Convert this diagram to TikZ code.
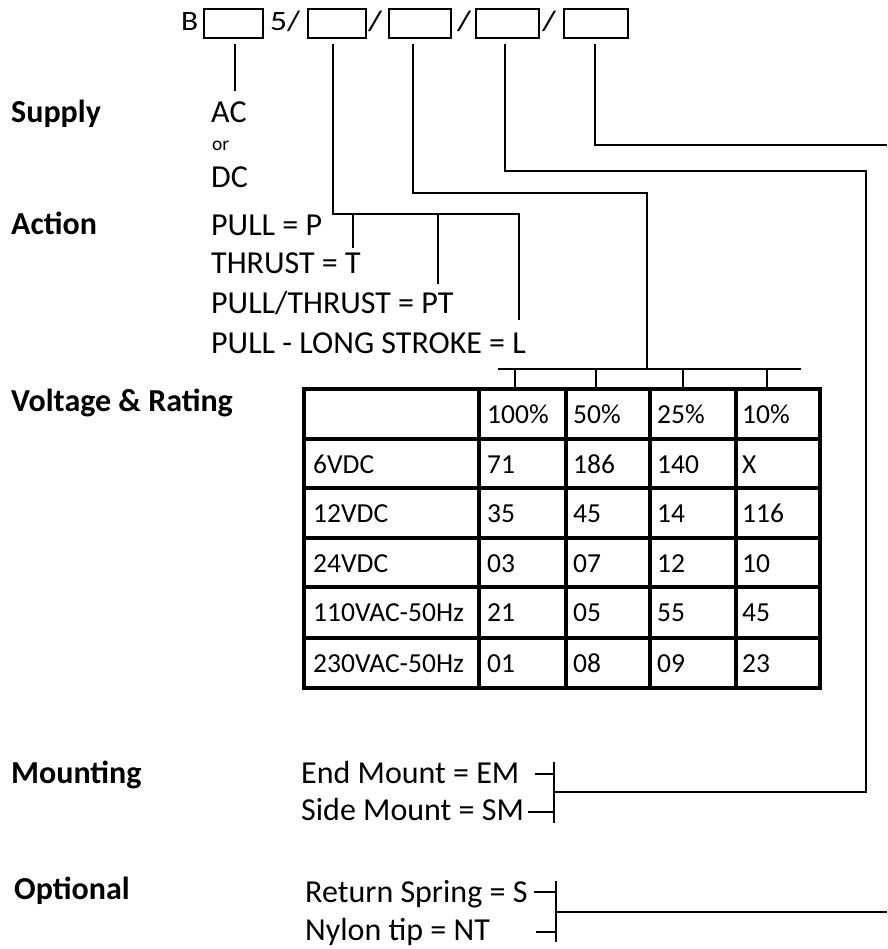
\documentclass[tikz,border=0pt]{standalone}
\usepackage{fontspec}
\setmainfont{Carlito}
\begin{document}
\begin{tikzpicture}[x=1pt,y=-1pt,
  conn/.style={line width=2.4pt, line join=miter},
  grid/.style={line width=3.1pt, line cap=rect},
  codebox/.style={draw, line width=2.3pt, minimum height=29pt, inner sep=0pt, anchor=north west},
  toptxt/.style={anchor=base west, inner sep=0pt, font=\fontsize{28}{32}\selectfont},
  lbl/.style={anchor=base west, inner sep=0pt, font=\fontsize{32}{38}\selectfont},
  head/.style={anchor=base west, inner sep=0pt, font=\bfseries\fontsize{32}{38}\selectfont},
  small/.style={anchor=base west, inner sep=0pt, font=\fontsize{19.5}{23}\selectfont},
  cell/.style={anchor=base west, inner sep=0pt, font=\fontsize{27.5}{33}\selectfont}
]
\useasboundingbox (0,0) rectangle (887,949);

% ---- code line ----
\node[toptxt] (tB) at (181,31) {\scalebox{1.12}[1]{B}};
\node[codebox, minimum width=59pt] (b1) at (203,8) {};
\node[toptxt] (t5) at (270,31) {\scalebox{1.2}[1]{5/}};
\node[codebox, minimum width=58pt] (b2) at (307,8) {};
\node[toptxt] (s2) at (368,31) {\scalebox{1.3}[1]{/}};
\node[codebox, minimum width=62pt] (b3) at (388,8) {};
\node[toptxt] (s3) at (457,31) {\scalebox{1.3}[1]{/}};
\node[codebox, minimum width=63pt] (b4) at (475,8) {};
\node[toptxt] (s4) at (542,31) {\scalebox{1.3}[1]{/}};
\node[codebox, minimum width=64pt] (b5) at (563,8) {};

% ---- left headings ----
\node[head] (hSupply) at (11,123) {Supply};
\node[head] (hAction) at (11,235) {Action};
\node[head] (hVolt) at (11,411) {Voltage \& Rating};
\node[head] (hMount) at (11,783) {Mounting};
\node[head] (hOpt) at (14,899) {Optional};

% ---- supply ----
\node[lbl] (ac) at (211,123) {AC};
\node[small] (or) at (212,151) {or};
\node[lbl] (dc) at (211,188) {DC};

% ---- action ----
\node[lbl] (aP) at (211,236) {PULL = P};
\node[lbl] (aT) at (211,274) {THRUST = T};
\node[lbl] (aPT) at (211,313) {PULL/THRUST = PT};
\node[lbl] (aL) at (211,353) {PULL - LONG STROKE = L};

% ---- mounting / optional ----
\node[lbl] (mEM) at (301,783) {End Mount = EM};
\node[lbl] (mSM) at (301,820) {Side Mount = SM};
\node[lbl] (oS) at (305,902) {Return Spring = S};
\node[lbl] (oNT) at (305,940) {Nylon tip = NT};

% ---- table ----
\foreach \yy in {389,439,488,538,587,638,688}
  \draw[grid] (304,\yy) -- (820,\yy);
\foreach \xx in {304,479,566,650,736,820}
  \draw[grid] (\xx,389) -- (\xx,688);

\node[cell] (c01) at (487,423) {100\%};
\node[cell] (c02) at (573,423) {50\%};
\node[cell] (c03) at (657,423) {25\%};
\node[cell] (c04) at (742,423) {10\%};

\node[cell] (c10) at (313,473) {6VDC};
\node[cell] (c11) at (487,473) {71};
\node[cell] (c12) at (573,473) {186};
\node[cell] (c13) at (657,473) {140};
\node[cell] (c14) at (742,473) {X};

\node[cell] (c20) at (313,522) {12VDC};
\node[cell] (c21) at (487,522) {35};
\node[cell] (c22) at (573,522) {45};
\node[cell] (c23) at (657,522) {14};
\node[cell] (c24) at (742,522) {116};

\node[cell] (c30) at (313,572) {24VDC};
\node[cell] (c31) at (487,572) {03};
\node[cell] (c32) at (573,572) {07};
\node[cell] (c33) at (657,572) {12};
\node[cell] (c34) at (742,572) {10};

\node[cell] (c40) at (313,621) {110VAC-50Hz};
\node[cell] (c41) at (487,621) {21};
\node[cell] (c42) at (573,621) {05};
\node[cell] (c43) at (657,621) {55};
\node[cell] (c44) at (742,621) {45};

\node[cell] (c50) at (313,672) {230VAC-50Hz};
\node[cell] (c51) at (487,672) {01};
\node[cell] (c52) at (573,672) {08};
\node[cell] (c53) at (657,672) {09};
\node[cell] (c54) at (742,672) {23};

% ---- connectors ----
% supply
\draw[conn] (b1.south -| 235,0) ++(0,5) -- ++(0,47);
% action
\coordinate (actR) at (519,214);
\draw[conn] (b2.south -| 333,0) ++(0,5) |- (actR) -- ++(0,106);
\draw[conn] (353,214) -- (353,248);
\draw[conn] (438,214) -- (438,284);
% voltage & rating
\coordinate (vr) at (647,369);
\draw[conn] (b3.south -| 413,0) ++(0,5) |- (647,193) -- (vr);
\draw[conn] (498,369) -- (801,369);
\foreach \xx in {515,596,683,767}
  \draw[conn] (\xx,369) -- (\xx,389);
% mounting
\coordinate (mj) at (554,792);
\draw[conn] (b4.south -| 505,0) ++(0,5) |- (866,171) |- (mj);
\draw[conn] (554,762) -- (554,823);
\draw[conn] (535,774) -- (554,774);
\draw[conn] (528,812) -- (554,812);
% optional
\coordinate (oj) at (556,912);
\coordinate (oend) at (887,912);
\coordinate (oend2) at (887,145);
\draw[conn] (b5.south -| 595,0) ++(0,5) |- (oend2);
\draw[conn] (oj) -- (oend);
\draw[conn] (556,881) -- (556,942);
\draw[conn] (534,892) -- (556,892);
\draw[conn] (536,932) -- (556,932);
\end{tikzpicture}
\end{document}
